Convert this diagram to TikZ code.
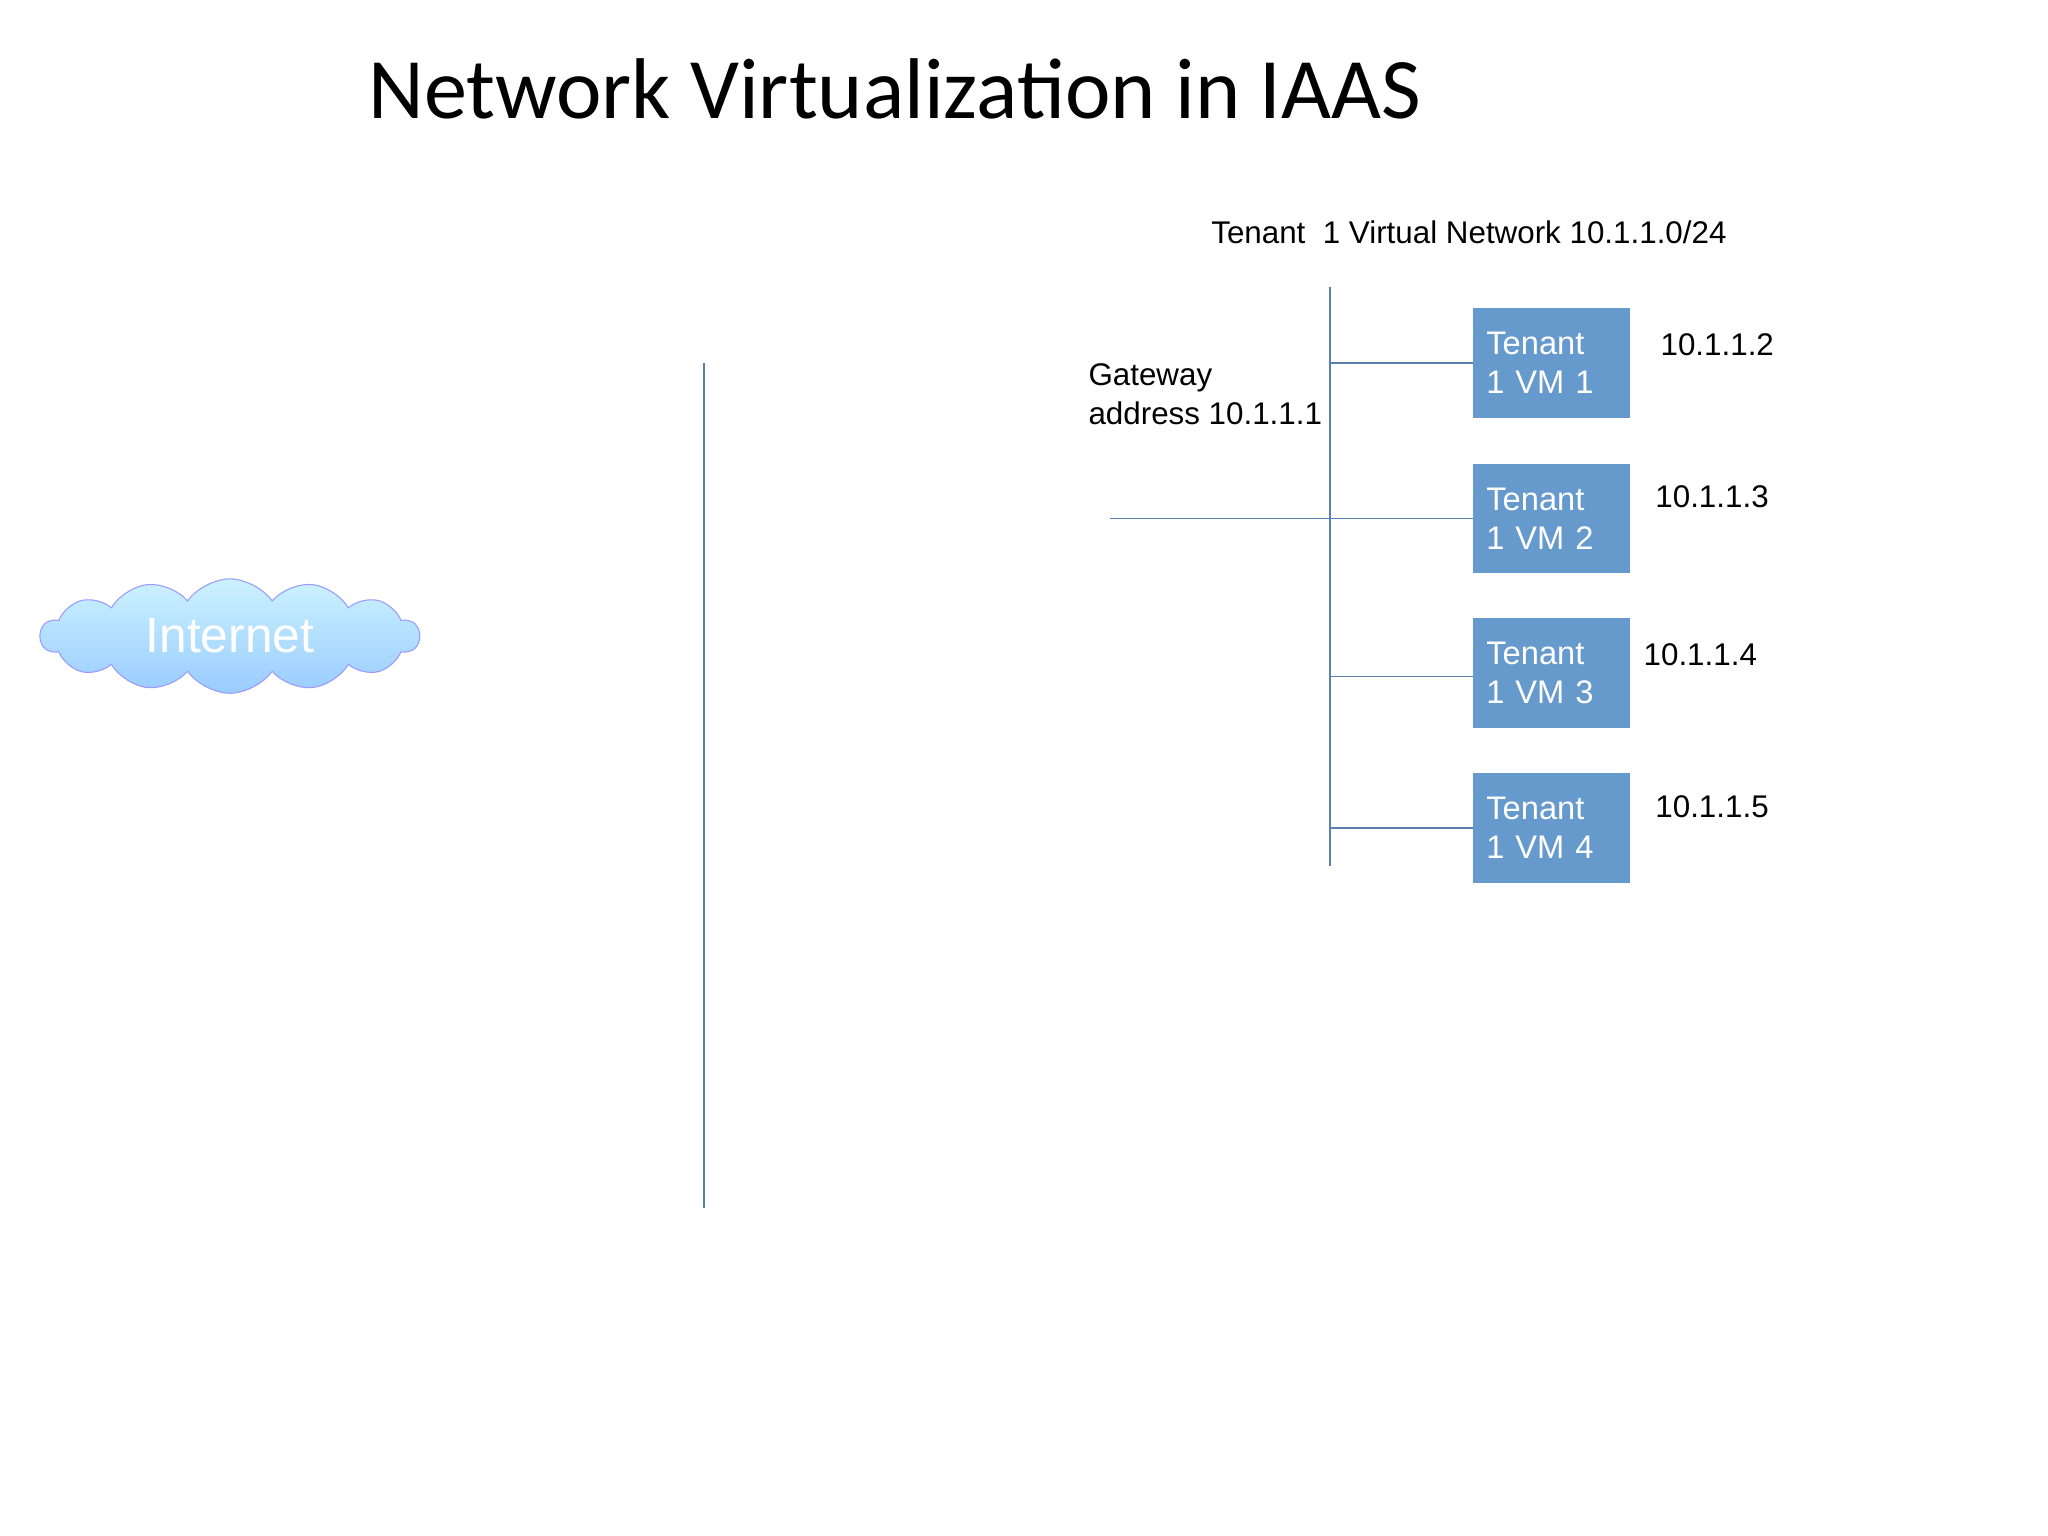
\documentclass[tikz,border=0pt]{standalone}
\usepackage{fontspec}
\setmainfont{Liberation Sans}
\newfontfamily\titlefont{Carlito}
\usetikzlibrary{shapes.symbols}
\definecolor{vmblue}{HTML}{6699CC}
\definecolor{linec}{HTML}{5B7FB0}
\tikzset{
  vmbox/.style={fill=vmblue,minimum width=60pt,minimum height=42pt,text=white,align=left,font=\fontsize{12.5}{15}\selectfont,inner sep=0pt,text width=50pt},
  net/.style={draw=linec,line width=0.7pt},
  lbl/.style={font=\fontsize{12}{15}\selectfont,anchor=west,inner sep=0pt}
}
\begin{document}
\begin{tikzpicture}[x=0.5pt,y=-0.5pt]
\useasboundingbox (0,0) rectangle (1568,1176);
\node[font=\titlefont\fontsize{33}{38}\selectfont] (title) at (685,68) {Network Virtualization in IAAS};
\node[lbl] (tn) at (927,178) {Tenant\ \ 1 Virtual Network 10.1.1.0/24};
\node[lbl,align=left] (gw) at (833,302) {Gateway\\address 10.1.1.1};
\coordinate (bt) at (1018,220);
\coordinate (bb) at (1018,663);
\draw[net] (bt) -- (bb);
\coordinate (lt) at (539,278);
\coordinate (lb) at (539,925);
\draw[net] (lt) -- (lb);
\coordinate (gl) at (850,397);
\node[vmbox] (v1) at (1188,278) {Tenant\\1 VM 1};
\node[vmbox] (v2) at (1188,397) {Tenant\\1 VM 2};
\node[vmbox] (v3) at (1188,515) {Tenant\\1 VM 3};
\node[vmbox] (v4) at (1188,634) {Tenant\\1 VM 4};
\draw[net] (gl) -- (v2.west);
\draw[net] (1018,278) -- (v1.west);
\draw[net] (1018,518) -- (v3.west |- 0,518);
\draw[net] (1018,634) -- (v4.west);
\node[lbl] (a1) at (1271,264) {10.1.1.2};
\node[lbl] (a2) at (1267,380) {10.1.1.3};
\node[lbl] (a3) at (1258,501) {10.1.1.4};
\node[lbl] (a4) at (1267,618) {10.1.1.5};
\node[cloud,cloud puffs=14,cloud puff arc=110,aspect=5,minimum width=145pt,minimum height=34pt,
  top color=blue!25!cyan!20,bottom color=blue!50!cyan!40!white,draw=blue!40!white,
  text=white,font=\fontsize{19}{22}\selectfont] (inet) at (176,487) {Internet};
\end{tikzpicture}
\end{document}
